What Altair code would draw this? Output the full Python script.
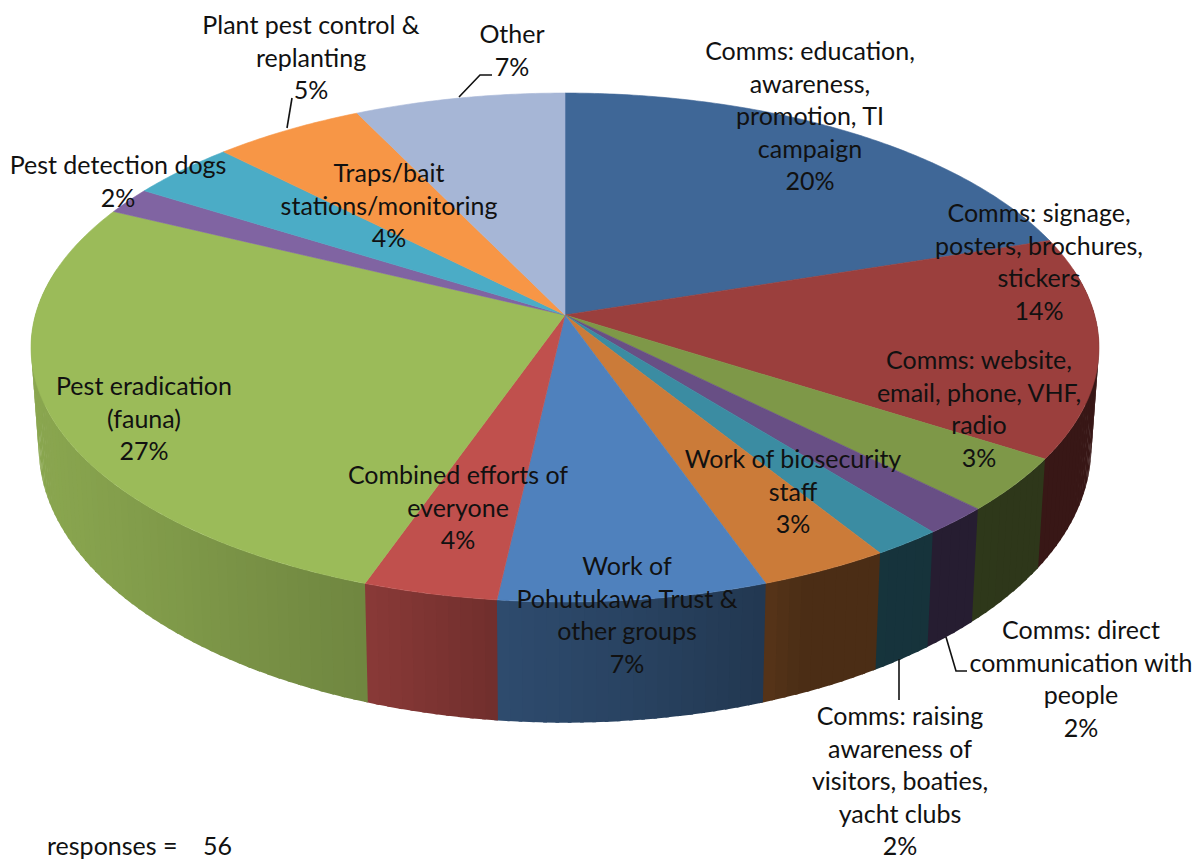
import math
import altair as alt
import pandas as pd

# Share of responses per category, clockwise from twelve o'clock
categories = [
    "Comms: education, awareness, promotion, TI campaign",
    "Comms: signage, posters, brochures, stickers",
    "Comms: website, email, phone, VHF, radio",
    "Comms: direct communication with people",
    "Comms: raising awareness of visitors, boaties, yacht clubs",
    "Work of biosecurity staff",
    "Work of Pohutukawa Trust & other groups",
    "Combined efforts of everyone",
    "Pest eradication (fauna)",
    "Pest detection dogs",
    "Traps/bait stations/monitoring",
    "Plant pest control & replanting",
    "Other",
]
shares = [20.0, 14.0, 3.45, 1.8, 1.85, 3.49, 7.2, 3.6, 26.8, 1.7, 3.7, 5.2, 7.21]
top_colors = ["#3F6797", "#9B3F3D", "#7E9848", "#684F85", "#3B8CA2", "#CB7B39", "#4F81BD",
              "#C0504D", "#9BBB59", "#8064A2", "#4BACC6", "#F79646", "#A6B6D6"]

# Wrapped label lines and the centre of each label's first line
label_lines = [
    ["Comms: education,", "awareness,", "promotion, TI", "campaign"],
    ["Comms: signage,", "posters, brochures,", "stickers"],
    ["Comms: website,", "email, phone, VHF,", "radio"],
    ["Comms: direct", "communication with", "people"],
    ["Comms: raising", "awareness of", "visitors, boaties,", "yacht clubs"],
    ["Work of biosecurity", "staff"],
    ["Work of", "Pohutukawa Trust &", "other groups"],
    ["Combined efforts of", "everyone"],
    ["Pest eradication", "(fauna)"],
    ["Pest detection dogs"],
    ["Traps/bait", "stations/monitoring"],
    ["Plant pest control &", "replanting"],
    ["Other"],
]
label_x = [810, 1039, 979, 1081, 900, 793, 627, 458, 144, 118, 389, 311, 512]
label_y = [52, 214, 361, 631, 717, 460, 567, 476, 387, 166, 174, 26, 35]
LINE_STEP = 32.5
FONT = "Lato"
FONT_SIZE = 25

# Leader lines from the rim out to a label
leaders = {
    "other": ([459, 480, 492], [97, 75, 75]),
    "plant": ([287, 292], [128, 98]),
    "raising": ([899, 899], [659, 700]),
    "direct": ([946, 956, 967], [637, 671, 671]),
}

# Perspective disc: top face and base of the pie
TOP = dict(cx=565, cy=315, a=529.6, b=250.3, k=0.1277)
BASE = dict(cx=565, cy=412, a=522.0, b=271.0, k=0.1277)


def project(plane, turn):
    """Rim position of a pie plane at a clockwise turn (0..1) from the top."""
    u, v = math.sin(2 * math.pi * turn), math.cos(2 * math.pi * turn)
    d = 1 + plane["k"] * v
    return plane["cx"] + plane["a"] * u / d, plane["cy"] - plane["b"] * v / d


def shade(hex_color, factor):
    channels = [int(hex_color[i:i + 2], 16) for i in (1, 3, 5)]
    return "#" + "".join(f"{min(255, round(c * factor)):02x}" for c in channels)


def wall_light(x):
    """Side walls darken from left to right."""
    stops = [(0, 0.90), (60, 0.88), (360, 0.72), (430, 0.65), (500, 0.58), (620, 0.52),
             (760, 0.43), (800, 0.37), (1203, 0.36)]
    for (x0, f0), (x1, f1) in zip(stops, stops[1:]):
        if x <= x1:
            return f0 + (f1 - f0) * (x - x0) / (x1 - x0)
    return stops[-1][1]


rows = []
total = sum(shares)
starts = [sum(shares[:i]) / total for i in range(len(shares))]
ends = starts[1:] + [1.0]
STEP = 1 / 300
OVERLAP = 0.001
WALL_FROM, WALL_TO = 0.22, 0.78
piece = 0

# Side walls in narrow strips along the front; each strip runs slightly under the next
for color, s, e in zip(top_colors, starts, ends):
    t0 = max(s, WALL_FROM)
    t1 = min(e, WALL_TO)
    if t1 <= t0:
        continue
    n = max(1, round((t1 - t0) / STEP))
    for i in range(n):
        a = t0 + (t1 - t0) * i / n
        b = min(t0 + (t1 - t0) * (i + 1) / n + OVERLAP, WALL_TO)
        corners = [project(TOP, a), project(TOP, b), project(BASE, b), project(BASE, a)]
        fill = shade(color, wall_light(sum(c[0] for c in corners) / 4))
        for j, (x, y) in enumerate(corners + corners[:1]):
            rows.append(dict(piece=f"{piece:05d}", idx=j, x=x, y=y, color=fill, layer=0))
        piece += 1

# Top face, one sector per category
for color, s, e in zip(top_colors, starts, ends):
    n = max(2, round((e - s) / (STEP / 2)))
    pts = [(TOP["cx"], TOP["cy"])] + [project(TOP, s + (e - s) * i / n) for i in range(n + 1)]
    for j, (x, y) in enumerate(pts + pts[:1]):
        rows.append(dict(piece=f"{piece:05d}", idx=j, x=x, y=y, color=color, layer=1))
    piece += 1

pie = pd.DataFrame(rows)

text_rows = []
for lines, x, y0, share in zip(label_lines, label_x, label_y, shares):
    for i, line in enumerate(lines + [f"{round(share)}%"]):
        text_rows.append(dict(x=x, y=y0 + i * LINE_STEP, text=line))
text_df = pd.DataFrame(text_rows)

leader_df = pd.DataFrame([
    dict(name=name, idx=i, x=x, y=y)
    for name, (xs, ys) in leaders.items()
    for i, (x, y) in enumerate(zip(xs, ys))
])

x_enc = alt.X("x:Q", scale=alt.Scale(domain=[0, 1203]), axis=None)
y_enc = alt.Y("y:Q", scale=alt.Scale(domain=[859, 0]), axis=None)

walls = alt.Chart(pie[pie.layer == 0]).mark_line(strokeWidth=0, interpolate="linear").encode(
    x=x_enc, y=y_enc, detail="piece:N", order="idx:Q",
    fill=alt.Fill("color:N", scale=None),
)
top_face = alt.Chart(pie[pie.layer == 1]).mark_line(strokeWidth=0.6, interpolate="linear").encode(
    x=x_enc, y=y_enc, detail="piece:N", order="idx:Q",
    stroke=alt.Stroke("color:N", scale=None),
    fill=alt.Fill("color:N", scale=None),
)

leader_lines = alt.Chart(leader_df).mark_line(color="#111111", strokeWidth=1.6).encode(
    x=x_enc, y=y_enc, detail="name:N", order="idx:Q"
)
labels = alt.Chart(text_df).mark_text(
    font=FONT, fontSize=FONT_SIZE, color="#111111", align="center", baseline="middle"
).encode(x=x_enc, y=y_enc, text="text:N")
note = alt.Chart(pd.DataFrame([dict(x=47, y=847, text="responses =\u00a0\u00a0\u00a0 56")])).mark_text(
    font=FONT, fontSize=FONT_SIZE, color="#111111", align="left", baseline="middle"
).encode(x=x_enc, y=y_enc, text="text:N")

chart = alt.layer(walls, top_face, leader_lines, labels, note).properties(
    width=1203, height=859, padding=0, background="white",
    autosize=alt.AutoSizeParams(type="none"),
).configure_view(stroke=None)

chart.save("out.html", embed_options={"renderer": "svg", "actions": False})
